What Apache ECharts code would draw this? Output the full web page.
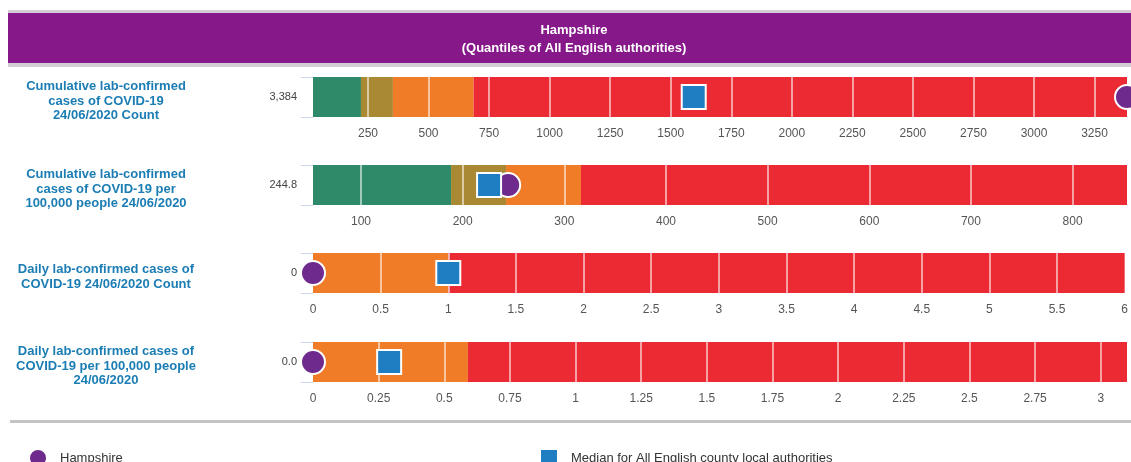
<!DOCTYPE html>
<html>
<head>
<meta charset="utf-8">
<script src="https://cdn.jsdelivr.net/npm/echarts@6/dist/echarts.min.js"></script>
<style>
  html, body { margin: 0; padding: 0; background: #ffffff; }
  #chart { width: 1131px; height: 462px; }
</style>
</head>
<body>
<div id="chart"></div>
<script>
// ---- data ----
const rowLabels = [
  'Cumulative lab-confirmed\ncases of COVID-19\n24/06/2020 Count',
  'Cumulative lab-confirmed\ncases of COVID-19 per\n100,000 people 24/06/2020',
  'Daily lab-confirmed cases of\nCOVID-19 24/06/2020 Count',
  'Daily lab-confirmed cases of\nCOVID-19 per 100,000 people\n24/06/2020'
];
const valueLabels = ['3,384', '244.8', '0', '0.0'];
const rangeMin = [23, 52.8, 0, 0];
const quantile1 = [221, 188.6, 0, 0];
const quantile2 = [353, 242.7, 0, 0];
const quantile3 = [686, 316.4, 1, 0.59];
const rangeMax = [3384, 853.5, 6, 3.1];
const hampshireValues = [3384, 244.8, 0, 0];
const medianValues = [1595, 226, 1, 0.29];
const ticksRow1 = [250, 500, 750, 1000, 1250, 1500, 1750, 2000, 2250, 2500, 2750, 3000, 3250];
const ticksRow2 = [100, 200, 300, 400, 500, 600, 700, 800];
const ticksRow3 = [0, 0.5, 1, 1.5, 2, 2.5, 3, 3.5, 4, 4.5, 5, 5.5, 6];
const ticksRow4 = [0, 0.25, 0.5, 0.75, 1, 1.25, 1.5, 1.75, 2, 2.25, 2.5, 2.75, 3];
const rowTicks = [ticksRow1, ticksRow2, ticksRow3, ticksRow4];
const headerTitle = 'Hampshire';
const headerSubtitle = '(Quantiles of All English authorities)';
const legendNames = ['Hampshire', 'Median for All English county local authorities'];

// ---- styles ----
const C = {
  green: '#2E8A69', olive: '#AA8934', orange: '#F07C28', red: '#EC2A33',
  blue: '#1F7EC2', purple: '#6F2A8D', header: '#86188A', label: '#1B7DB4'
};
const FONT = '"Liberation Sans", Arial, sans-serif';
const gridTops = [77, 165, 253, 342];
const gridH = 40;

const grids = [], xAxes = [], yAxes = [], series = [], graphics = [];

gridTops.forEach(function (top, i) {
  grids.push({ left: 313, right: 4, top: top, height: gridH, containLabel: false });
  const ticks = rowTicks[i];
  xAxes.push({
    type: 'value', gridIndex: i, min: rangeMin[i], max: rangeMax[i],
    axisLine: { show: false }, axisTick: { show: false }, splitLine: { show: false },
    axisLabel: {
      customValues: ticks, margin: 11, fontSize: 12, color: '#555', fontFamily: FONT,
      formatter: function (v) { return String(v); }
    }
  });
  yAxes.push({
    type: 'category', gridIndex: i, data: [valueLabels[i]],
    axisLine: { show: false },
    axisTick: { show: true, length: 12, lineStyle: { color: '#ccd6eb' } },
    axisLabel: { margin: 16, fontSize: 11, color: '#444', fontFamily: FONT }
  });
  const segs = [
    { name: 'base', v: rangeMin[i], color: 'transparent' },
    { name: 'q1', v: quantile1[i] - rangeMin[i], color: C.green },
    { name: 'q2', v: quantile2[i] - quantile1[i], color: C.olive },
    { name: 'q3', v: quantile3[i] - quantile2[i], color: C.orange },
    { name: 'q4', v: rangeMax[i] - quantile3[i], color: C.red }
  ];
  segs.forEach(function (s, k) {
    const ser = {
      type: 'bar', name: s.name + '_' + i, stack: 'row' + i,
      xAxisIndex: i, yAxisIndex: i, barWidth: '100%', barCategoryGap: 0,
      data: [s.v], itemStyle: { color: s.color }, silent: true, clip: true
    };
    if (k === segs.length - 1) {
      ser.markLine = {
        silent: true, symbol: ['none', 'none'], label: { show: false },
        lineStyle: { color: 'rgba(255,255,255,0.75)', width: 1.5, type: 'solid' },
        data: ticks.filter(function (t) { return t > rangeMin[i] && t < rangeMax[i]; })
                   .map(function (t) { return { xAxis: t }; })
      };
    }
    series.push(ser);
  });
  series.push({
    type: 'scatter', name: legendNames[0], xAxisIndex: i, yAxisIndex: i, z: 5, clip: false,
    symbol: 'circle', symbolSize: 24,
    itemStyle: { color: C.purple, borderColor: '#fff', borderWidth: 2, opacity: 1 },
    data: [[hampshireValues[i], 0]]
  });
  series.push({
    type: 'scatter', name: legendNames[1], xAxisIndex: i, yAxisIndex: i, z: 6, clip: false,
    symbol: 'rect', symbolSize: 24,
    itemStyle: { color: C.blue, borderColor: '#fff', borderWidth: 2, opacity: 1 },
    data: [[medianValues[i], 0]]
  });
  graphics.push({
    type: 'text', x: 106, y: top + gridH / 2 + 4,
    style: {
      text: rowLabels[i], fill: C.label, font: 'bold 13px ' + FONT,
      textAlign: 'center', textVerticalAlign: 'middle', lineHeight: 14.5
    }
  });
});

// header band and separators
graphics.push({ type: 'rect', shape: { x: 8, y: 10, width: 1130, height: 57 }, style: { fill: '#d3ccd6' }, z: -1 });
graphics.push({ type: 'rect', shape: { x: 8, y: 13, width: 1130, height: 50 }, style: { fill: C.header } });
graphics.push({ type: 'text', x: 574, y: 30, style: { text: headerTitle, fill: '#fff', font: 'bold 13px ' + FONT, textAlign: 'center', textVerticalAlign: 'middle' } });
graphics.push({ type: 'text', x: 574, y: 48, style: { text: headerSubtitle, fill: '#fff', font: 'bold 13px ' + FONT, textAlign: 'center', textVerticalAlign: 'middle' } });
graphics.push({ type: 'rect', shape: { x: 10, y: 420, width: 1130, height: 3 }, style: { fill: '#c4c4c4' } });

const chart = echarts.init(document.getElementById('chart'), null, { renderer: 'canvas' });
chart.setOption({
  animation: false,
  backgroundColor: '#ffffff',
  textStyle: { fontFamily: FONT },
  grid: grids,
  xAxis: xAxes,
  yAxis: yAxes,
  legend: [
    { data: [{ name: legendNames[0], icon: 'circle' }], left: 23, top: 443, itemWidth: 18, itemHeight: 18,
      selectedMode: false, textStyle: { fontSize: 13, color: '#333', padding: [0, 0, 0, 8] } },
    { data: [{ name: legendNames[1], icon: 'rect' }], left: 534, top: 443, itemWidth: 18, itemHeight: 18,
      selectedMode: false, textStyle: { fontSize: 13, color: '#333', padding: [0, 0, 0, 8] } }
  ],
  graphic: graphics,
  series: series
});
</script>
</body>
</html>
